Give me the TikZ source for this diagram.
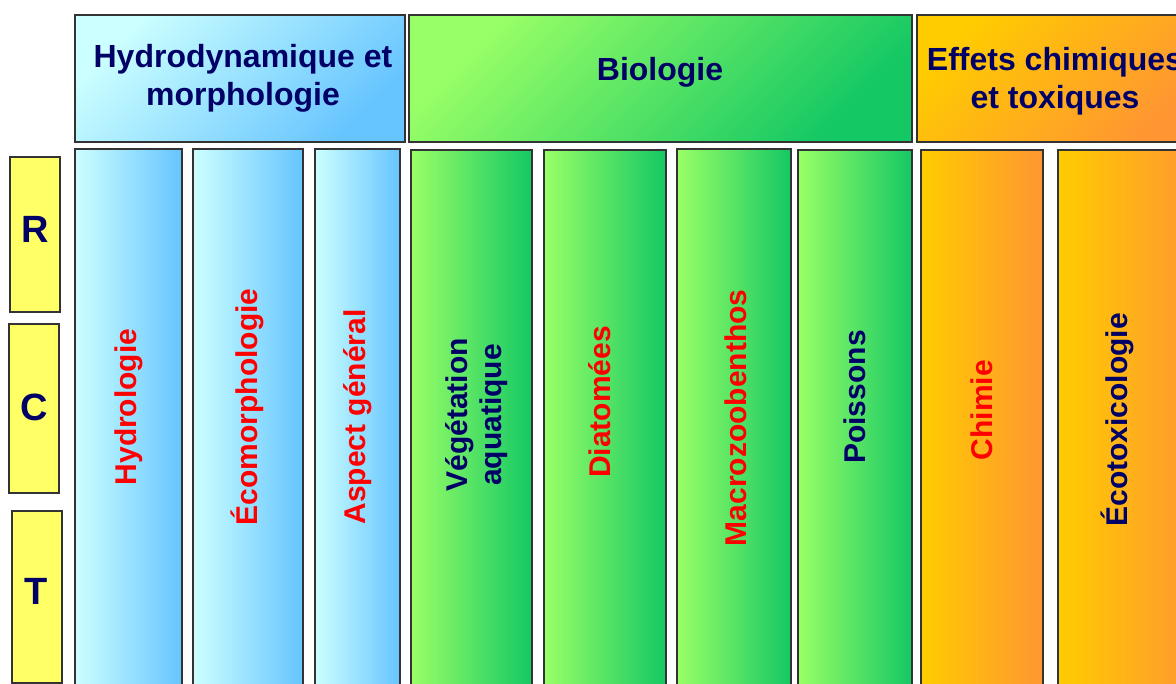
\documentclass[tikz,border=0pt]{standalone}
\usepackage{fontspec}
\setmainfont{Liberation Sans}
\definecolor{navy}{RGB}{0,0,102}
\definecolor{redtxt}{RGB}{255,0,0}
\definecolor{bluelight}{RGB}{204,255,255}
\definecolor{bluedark}{RGB}{102,196,255}
\definecolor{greenlight}{RGB}{153,255,102}
\definecolor{greendark}{RGB}{20,200,100}
\definecolor{orangelight}{RGB}{255,204,0}
\definecolor{orangedark}{RGB}{255,150,50}
\definecolor{rctyellow}{RGB}{255,255,102}
\definecolor{edge}{RGB}{51,51,51}
\begin{document}
\begin{tikzpicture}[x=1pt,y=-1pt,
  box/.style={draw=edge, line width=1.5pt},
  bluehead/.style={box, left color=bluelight, right color=bluedark, shading angle=45},
  greenhead/.style={box, left color=greenlight, right color=greendark, shading angle=45},
  orangehead/.style={box, left color=orangelight, right color=orangedark, shading angle=45},
  bluecol/.style={box, left color=bluelight, right color=bluedark},
  greencol/.style={box, left color=greenlight, right color=greendark},
  orangecol/.style={box, left color=orangelight, right color=orangedark},
  rctbox/.style={box, fill=rctyellow},
  headtxt/.style={font=\bfseries\fontsize{32}{38}\selectfont, text=navy, align=center},
  coltxt/.style={font=\bfseries\fontsize{30}{34}\selectfont, rotate=90, align=center},
  rcttxt/.style={font=\bfseries\fontsize{38}{40}\selectfont, text=navy}
]
\useasboundingbox (0,0) rectangle (1176,684);
\clip (0,0) rectangle (1176,684);
% headers
\path[bluehead] (75,15) rectangle (405,142);
\path[greenhead] (409,15) rectangle (912,142);
\path[orangehead] (917,15) rectangle (1194,142);
\node[headtxt] (h1) at (243,78) {Hydrodynamique et\\morphologie};
\node[headtxt] (h2) at (660,72) {Biologie};
\node[headtxt] (h3) at (1055,81) {Effets chimiques\\et toxiques};
% columns
\path[bluecol] (75,149) rectangle (182,700);
\path[bluecol] (193,149) rectangle (303,700);
\path[bluecol] (315,149) rectangle (400,700);
\path[greencol] (411,150) rectangle (532,700);
\path[greencol] (544,150) rectangle (666,700);
\path[greencol] (677,149) rectangle (791,700);
\path[greencol] (798,150) rectangle (912,700);
\path[orangecol] (921,150) rectangle (1043,700);
\path[orangecol] (1058,150) rectangle (1200,700);
\node[coltxt, text=redtxt] (c1) at (128.5,407) {Hydrologie};
\node[coltxt, text=redtxt] (c2) at (247,407) {Écomorphologie};
\node[coltxt, text=redtxt] (c3) at (358,417) {Aspect général};
\node[coltxt, text=navy] (c4) at (477,415) {Végétation\\aquatique};
\node[coltxt, text=redtxt] (c5) at (600,402) {Diatomées};
\node[coltxt, text=redtxt] (c6) at (736,418) {Macrozoobenthos};
\node[coltxt, text=navy] (c7) at (855,397) {Poissons};
\node[coltxt, text=redtxt] (c8) at (982,410) {Chimie};
\node[coltxt, text=navy] (c9) at (1117,420) {Écotoxicologie};
% R C T
\path[rctbox] (10,157) rectangle (60,312);
\path[rctbox] (9,324) rectangle (59,493);
\path[rctbox] (12,511) rectangle (62,683);
\node[rcttxt] (r) at (35,229) {R};
\node[rcttxt] (c) at (34,407) {C};
\node[rcttxt] (t) at (36,591) {T};
\end{tikzpicture}
\end{document}
